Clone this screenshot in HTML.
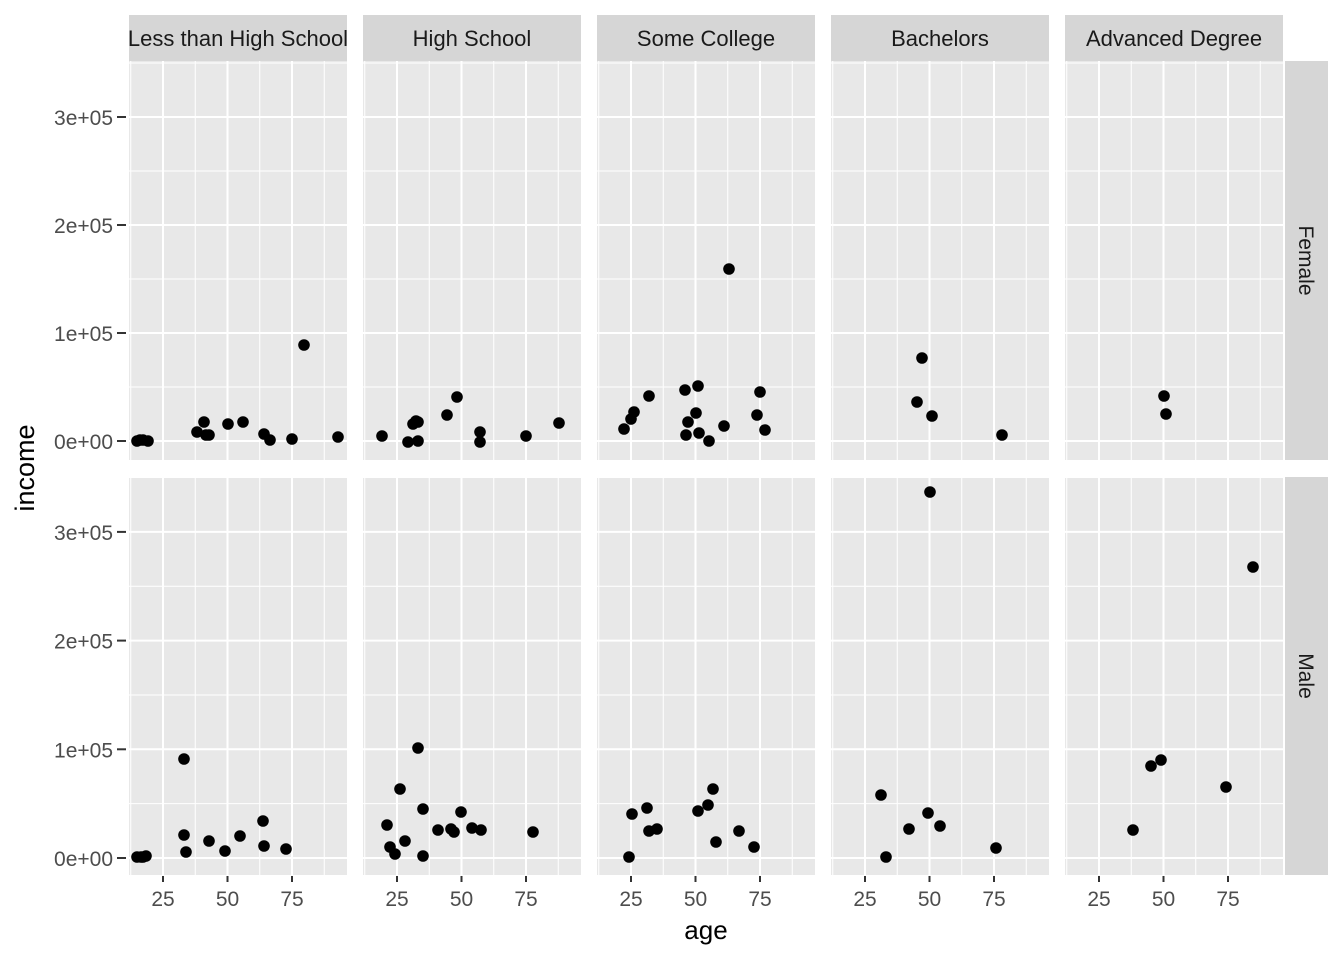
<!DOCTYPE html>
<html><head><meta charset="utf-8"><style>
html,body{margin:0;padding:0;background:#fff}
svg{display:block}
text{font-family:"Liberation Sans",Arial,sans-serif}
</style></head><body>
<svg id="s" width="1344" height="960" xmlns="http://www.w3.org/2000/svg"></svg>
<script>
const s=document.getElementById('s');let h='';
const cols=[129,363,597,831,1065],W=218;
const rows=[{t:61,b:460,z:441,k:1.08},{t:477,b:875,z:858,k:1.087}];
const xs=v=>34+(v-25)*2.58;
const names=["Less than High School","High School","Some College","Bachelors","Advanced Degree"];
h+='<defs>';cols.forEach((c,i)=>{h+=`<clipPath id="c${i}"><rect x="${c}" y="15" width="${W}" height="46"/></clipPath>`});h+='</defs>';
rows.forEach((r,ri)=>{
 cols.forEach((c,ci)=>{
  h+=`<rect x="${c}" y="${r.t}" width="${W}" height="${r.b-r.t}" fill="#E8E8E8"/>`;
  for(let v=-0.5;v<=3.5;v+=0.5){const y=r.z-v*100*r.k;if(y<r.t||y>r.b)continue;const maj=Math.abs(v-Math.round(v))<0.01;
   h+=`<line x1="${c}" x2="${c+W}" y1="${y}" y2="${y}" stroke="#fff" stroke-width="${maj?2:1}"/>`;}
  for(let v=12.5;v<=100;v+=12.5){const x=c+xs(v);if(x<c||x>c+W)continue;const maj=v%25==0;
   h+=`<line x1="${x}" x2="${x}" y1="${r.t}" y2="${r.b}" stroke="#fff" stroke-width="${maj?2:1}"/>`;}
 });
 h+=`<rect x="1285" y="${r.t}" width="43" height="${r.b-r.t}" fill="#D6D6D6"/>`;
 const cy=(r.t+r.b)/2;
 h+=`<text x="1299" y="${cy}" transform="rotate(90 1299 ${cy})" text-anchor="middle" font-size="21" fill="#1A1A1A">${ri?'Male':'Female'}</text>`;
 for(let v=0;v<=3;v++){const y=r.z-v*100*r.k;
  h+=`<line x1="117" x2="126" y1="${y}" y2="${y}" stroke="#333" stroke-width="2"/>`;
  h+=`<text x="113" y="${y+8}" text-anchor="end" font-size="21" fill="#4D4D4D">${v}e+0${v?5:0}</text>`;}
});
cols.forEach((c,i)=>{
 h+=`<rect x="${c}" y="15" width="${W}" height="46" fill="#D6D6D6"/>`;
 h+=`<text x="${c+W/2}" y="46" text-anchor="middle" font-size="22" fill="#1A1A1A" clip-path="url(#c${i})">${names[i]}</text>`;
 [25,50,75].forEach(v=>{const x=c+xs(v);
  h+=`<line x1="${x}" x2="${x}" y1="876" y2="882" stroke="#333" stroke-width="2"/>`;
  h+=`<text x="${x}" y="906" text-anchor="middle" font-size="21" fill="#4D4D4D">${v}</text>`;});
});
const pts=[[137,441],[140,440],[143,440],[148,441],[197,432],[204,422],[209,435],[206,435],[228,424],[243,422],[264,434],[270,440],[292,439],[304,345],[338,437],
[382,436],[408,442],[413,424],[416,421],[418,422],[418,441],[447,415],[457,397],[480,432],[480,442],[526,436],[559,423],
[624,429],[631,419],[634,412],[649,396],[685,390],[686,435],[688,422],[698,386],[696,413],[699,433],[709,441],[724,426],[729,269],[757,415],[760,392],[765,430],
[922,358],[917,402],[932,416],[1002,435],[1164,396],[1166,414],
[137,857],[141,857],[143,857],[146,856],[184,759],[184,835],[186,852],[209,841],[225,851],[240,836],[263,821],[264,846],[286,849],
[387,825],[390,847],[395,854],[400,789],[405,841],[418,748],[423,809],[423,856],[438,830],[451,829],[454,832],[461,812],[472,828],[481,830],[533,832],
[629,857],[632,814],[647,808],[649,831],[657,829],[698,811],[708,805],[713,789],[716,842],[739,831],[754,847],
[881,795],[886,857],[909,829],[928,813],[940,826],[930,492],[996,848],
[1133,830],[1151,766],[1161,760],[1226,787],[1253,567]];
pts.forEach(p=>h+=`<circle cx="${p[0]}" cy="${p[1]}" r="5.8" fill="#000"/>`);
h+=`<text x="706" y="939" text-anchor="middle" font-size="26" fill="#000">age</text>`;
h+=`<text x="34" y="468" transform="rotate(-90 34 468)" text-anchor="middle" font-size="27" fill="#000">income</text>`;
s.innerHTML=h;
</script>
</body></html>
